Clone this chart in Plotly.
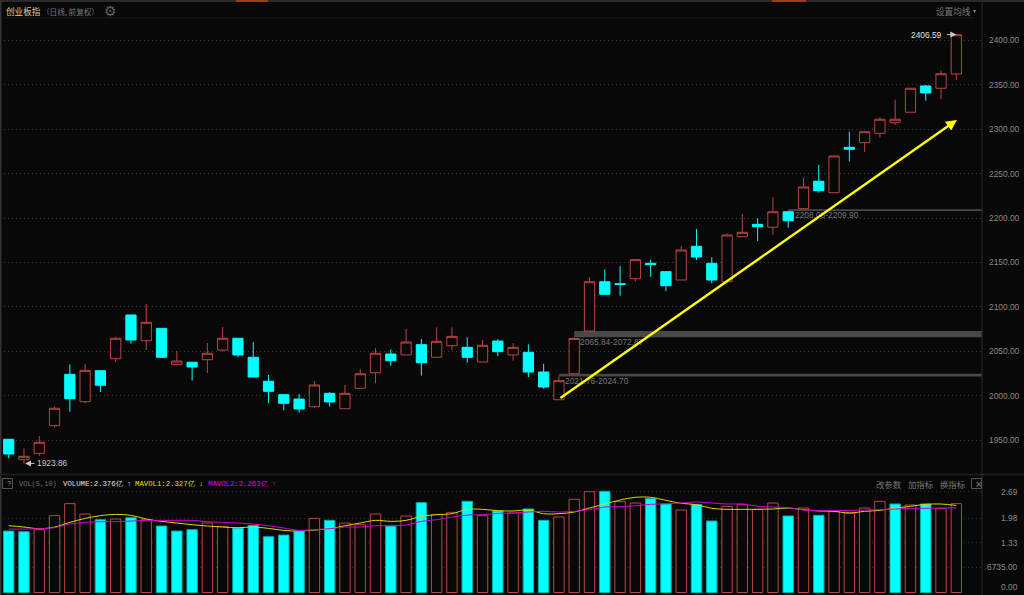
import plotly.graph_objects as go

opens = [1951.0,1928.0,1935.2,1966.3,2024.1,1993.3,2028.2,2041.7,2090.9,2062.0,2075.9,2035.0,2037.7,2040.6,2051.5,2064.7,2043.3,2016.3,2001.2,1996.3,1987.7,2002.7,
         1985.4,2008.4,2025.9,2047.0,2045.9,2057.5,2043.3,2056.3,2054.5,2038.0,2061.6,2045.9,2048.9,2026.7,1995.5,2024.7,2072.87,2128.4,2126.2,2131.8,2149.1,2139.7,2130.3,2168.3,2149.1,2128.4,2179.1,2193.0,2189.7,2207.2,
         2210.6,2241.5,2228.6,2279.7,2284.9,2295.5,2307.4,2319.2,2348.8,2346.2,2362.3]
highs = [1951.0,1940.8,1954.7,1987.7,2035.4,2036.1,2028.2,2066.5,2090.9,2103.3,2075.9,2050.4,2037.7,2059.4,2077.4,2064.7,2060.2,2023.4,2001.2,2002.0,2016.6,2004.2,
         2012.1,2030.4,2053.8,2052.3,2075.1,2063.9,2077.1,2077.1,2065.8,2062.8,2063.6,2059.4,2057.9,2036.1,2021.76,2065.84,2133.4,2142.4,2146.1,2153.6,2153.2,2139.7,2168.6,2187.7,2155.9,2182.9,2205.0,2199.8,2223.4,2208.08,
         2245.5,2259.8,2270.0,2297.3,2298.0,2313.5,2333.3,2346.2,2349.6,2366.4,2406.59]
lows = [1929.6,1923.86,1932.1,1964.5,1982.0,1991.5,2004.2,2038.0,2058.6,2051.5,2042.5,2035.0,2017.0,2025.6,2049.6,2043.3,2021.1,1991.5,1983.6,1980.9,1985.9,1987.7,
        1985.4,2008.4,2014.0,2033.8,2045.9,2022.6,2043.3,2051.5,2037.2,2038.0,2044.7,2039.5,2021.1,2007.9,1995.5,2024.7,2072.87,2113.4,2112.6,2128.9,2134.0,2117.9,2130.3,2152.8,2126.6,2128.4,2179.1,2174.2,2181.3,2189.2,
        2209.9,2228.6,2228.6,2264.0,2274.5,2290.6,2304.9,2319.2,2332.2,2334.1,2355.5]
closes = [1934.4,1931.8,1947.6,1985.9,1996.7,2028.6,2011.8,2064.7,2062.8,2082.7,2043.3,2039.1,2032.4,2047.8,2064.7,2045.9,2021.1,2005.0,1991.5,1985.1,2012.1,1993.0,
          2002.7,2024.8,2047.8,2039.5,2060.5,2037.2,2061.3,2066.9,2043.3,2056.8,2049.6,2054.5,2026.7,2009.8,2017.0,2064.5,2128.4,2114.2,2125.3,2153.2,2147.6,2123.9,2164.1,2156.2,2130.3,2181.0,2184.0,2190.3,2207.2,2197.1,
          2235.0,2230.9,2270.0,2277.5,2297.3,2311.3,2311.3,2346.2,2340.9,2362.6,2406.5]

volumes = [1.643,1.625,1.679,2.054,2.375,2.098,1.946,1.964,2.0,1.946,1.777,1.643,1.679,1.857,1.768,1.723,1.795,1.491,1.536,1.634,1.982,1.929,
           1.857,1.813,2.098,1.777,2.045,2.402,2.089,2.143,2.438,2.054,2.179,2.125,2.232,1.929,2.018,2.491,2.696,2.705,2.429,2.393,2.509,2.366,2.205,
           2.357,1.911,2.304,2.357,2.223,2.393,2.045,2.259,2.063,2.161,2.125,2.259,2.438,2.366,2.339,2.366,2.25,2.376]
vol_up = [0,0,1,1,1,1,0,1,0,1,0,0,0,1,1,0,0,0,0,0,1,0,
          1,1,1,0,1,0,1,1,0,1,0,1,0,0,1,1,1,0,1,1,0,0,1,
          0,0,1,1,1,1,0,1,0,1,1,1,1,0,1,0,1,1]
mavol1 = [1.786,1.75,1.705,1.75,1.875,1.982,2.054,2.089,2.063,1.964,1.902,1.857,1.813,1.777,1.75,1.732,1.75,1.714,1.661,1.643,1.67,1.705,
          1.786,1.857,1.929,1.902,1.929,2.036,2.08,2.107,2.223,2.223,2.188,2.179,2.205,2.107,2.107,2.152,2.259,2.366,2.473,2.545,2.545,2.464,2.384,
          2.348,2.25,2.223,2.223,2.223,2.232,2.259,2.214,2.179,2.17,2.125,2.17,2.196,2.259,2.304,2.357,2.366,2.327]
mavol2 = [1.696,1.696,1.705,1.732,1.83,1.875,1.893,1.893,1.911,1.929,1.929,1.929,1.929,1.893,1.875,1.857,1.83,1.786,1.723,1.661,1.679,1.705,
          1.75,1.75,1.786,1.786,1.804,1.902,1.946,2.018,2.071,2.08,2.116,2.125,2.152,2.17,2.152,2.17,2.214,2.286,2.295,2.321,2.357,2.375,2.393,
          2.42,2.393,2.366,2.366,2.304,2.286,2.268,2.205,2.188,2.188,2.196,2.205,2.214,2.232,2.25,2.25,2.259,2.263]
price_ticks = [1950,2000,2050,2100,2150,2200,2250,2300,2350,2400]
vol_ticks = [2.69,1.98,1.33,0.67]
vol_tick_labels = ["2.69","1.98","1.33","6735.00"]
gap_low = [2021.76,2065.84,2208.08]
gap_high = [2024.70,2072.87,2209.90]
gap_start = [36,37,51]

W, H = 1024, 595
RED, CYAN, BG = "#bb4444", "#00ffff", "#080808"
NUM = "Liberation Sans, sans-serif"
NUMSIZE = 8.4
MONO = "Liberation Mono, monospace"
CJK = "Noto Sans CJK SC"
xs = list(range(len(closes)))
xlo, xhi = -0.569, 63.68

fig = go.Figure()
fig.add_trace(go.Candlestick(
    x=xs, open=opens, high=highs, low=lows, close=closes, xaxis="x", yaxis="y",
    increasing=dict(line=dict(color=RED, width=1), fillcolor=BG),
    decreasing=dict(line=dict(color=CYAN, width=1), fillcolor=CYAN),
    whiskerwidth=0, showlegend=False, hoverinfo="skip"))
fig.add_trace(go.Bar(
    x=xs, y=volumes, width=0.68, xaxis="x", yaxis="y2", showlegend=False, hoverinfo="skip",
    marker=dict(color=[BG if u else CYAN for u in vol_up],
                line=dict(color=[RED if u else "#00b0b0" for u in vol_up], width=1))))
fig.add_trace(go.Scatter(x=xs, y=mavol1, mode="lines", xaxis="x", yaxis="y2", showlegend=False, hoverinfo="skip",
                         line=dict(color="#d8d800", width=1, shape="spline")))
fig.add_trace(go.Scatter(x=xs, y=mavol2, mode="lines", xaxis="x", yaxis="y2", showlegend=False, hoverinfo="skip",
                         line=dict(color="#d000d0", width=1, shape="spline")))

shapes = []
for lo, hi, st in zip(gap_low, gap_high, gap_start):
    shapes.append(dict(type="rect", xref="x", yref="y", x0=st, x1=xhi, y0=lo, y1=hi, layer="below",
                       fillcolor="#484848", line=dict(width=0)))
def ui_rect(x0, y0, x1, y1, color, line=None):
    shapes.append(dict(type="rect", xref="paper", yref="paper",
                       x0=x0/982, x1=x1/982, y0=1-y1/H, y1=1-y0/H,
                       fillcolor=color, line=dict(width=1 if line else 0, color=line or color), layer="above"))
ui_rect(0, 0, 1024, 2, "#2a2a2a")
ui_rect(236, 0, 268, 2, "#a03a10")
ui_rect(772, 0, 806, 2, "#a03a10")
ui_rect(0, 0, 1.5, 595, "#333333")
ui_rect(5, 17, 974, 18.5, "#141414")
ui_rect(0, 473.5, 1024, 475.5, "#1c1c1c")
ui_rect(981.5, 0, 982.5, 595, "#2c2c2c")
ui_rect(2.5, 478.5, 12.5, 488.5, "rgba(0,0,0,0)", "#555555")
ui_rect(971.5, 478.5, 981.5, 488.5, "rgba(0,0,0,0)", "#555555")

ann = []
def ui_text(x, y, t, color, size=10, anchor="left", family=MONO):
    ann.append(dict(xref="paper", yref="paper", x=x/982, y=1-y/H, text=t, showarrow=False,
                    xanchor=anchor, yanchor="middle", font=dict(color=color, size=size, family=family),
                    borderpad=0, xshift=0))
ui_text(5, 11, "创业板指", "#d6d68c", 8.6, family=CJK)
ui_text(41, 11, "（日线, 前复权）", "#777777", 7.6, family=CJK)
ui_text(103, 10.5, "⚙", "#666666", 14, family="DejaVu Sans")
ui_text(935, 11, "设置均线", "#777777", 8.6, family=CJK)
ui_text(972, 10, "▾", "#888888", 6, family="DejaVu Sans")
ui_text(5.5, 483.5, "?", "#888888", 7.5)
ui_text(18, 483.5, "VOL(5,10)", "#707070", 7)
ui_text(62, 483.5, "VOLUME:2.376亿 ↑", "#e0e0e0", 7.3)
ui_text(134, 483.5, "MAVOL1:2.327亿 ↓", "#e0e000", 7.3)
ui_text(207, 483.5, "MAVOL2:2.263亿 ↑", "#e000e0", 7.3)
ui_text(875, 483.5, "改参数", "#777777", 8.4, family=CJK)
ui_text(907, 483.5, "加指标", "#777777", 8.4, family=CJK)
ui_text(939, 483.5, "换指标", "#777777", 8.4, family=CJK)
ui_text(973.5, 483.5, "×", "#888888", 9, family="DejaVu Sans")

for v, l in zip(vol_ticks, vol_tick_labels):
    ann.append(dict(xref="paper", yref="y2", x=1019/982, y=v, text=l, showarrow=False, xanchor="right",
                    yanchor="middle", font=dict(color="#888888", size=NUMSIZE, family=NUM), borderpad=0))
ann.append(dict(xref="paper", yref="paper", x=1019/982, y=1-587/H, text="0.00", showarrow=False, xanchor="right",
                yanchor="middle", font=dict(color="#888888", size=NUMSIZE, family=NUM), borderpad=0))

for st, off, lo, hi in zip([36.3, 37.3, 51.4], [5.2, 5.3, 4.6], gap_low, gap_high):
    ann.append(dict(x=st, y=lo-off, xref="x", yref="y", text=f"{lo:.2f}-{hi:.2f}", showarrow=False,
                    xanchor="left", yanchor="middle", font=dict(color="#777777", size=NUMSIZE, family=NUM), borderpad=0))
hi_i, lo_i = highs.index(max(highs)), lows.index(min(lows))
ann.append(dict(x=hi_i, y=max(highs), xref="x", yref="y", text=f"{max(highs):.2f}", showarrow=False, xshift=-13,
                xanchor="right", yanchor="middle", font=dict(color="#e0e0e0", size=NUMSIZE, family=NUM), borderpad=0))
ann.append(dict(x=hi_i, y=max(highs), xref="x", yref="y", text="", showarrow=True, ax=-11, ay=0,
                arrowhead=2, arrowsize=1.2, arrowwidth=1, arrowcolor="#c8c8c8"))
ann.append(dict(x=lo_i, y=min(lows), xref="x", yref="y", text=f"{min(lows):.2f}", showarrow=False, xshift=12,
                xanchor="left", yanchor="middle", font=dict(color="#c8c8c8", size=NUMSIZE, family=NUM), borderpad=0))
ann.append(dict(x=lo_i, y=min(lows), xref="x", yref="y", text="", showarrow=True, ax=11, ay=0, xshift=1,
                arrowhead=2, arrowsize=1.2, arrowwidth=1, arrowcolor="#c8c8c8"))
# trend arrow
ann.append(dict(x=62.04, y=2310.5, ax=36.0, ay=1996.3, xref="x", yref="y", axref="x", ayref="y", text="",
                showarrow=True, arrowhead=2, arrowsize=0.9, arrowwidth=2.4, arrowcolor="#ffff00"))

fig.update_layout(
    width=W, height=H, margin=dict(l=0, r=42, t=0, b=0, autoexpand=False),
    paper_bgcolor=BG, plot_bgcolor=BG, showlegend=False, shapes=shapes, annotations=ann, bargap=0.3,
    boxgap=0.33, boxgroupgap=0,
    xaxis=dict(range=[xlo, xhi], anchor="y2", showgrid=False, zeroline=False, showticklabels=False,
               rangeslider=dict(visible=False), ticks=""),
    yaxis=dict(domain=[1-474/H, 1-18/H], range=[1911.9, 2425.3], side="right", tickvals=price_ticks,
               ticktext=[f"{t:.2f}" for t in price_ticks], ticks="", ticklabelstandoff=6,
               tickfont=dict(color="#888888", size=NUMSIZE, family=NUM),
               gridcolor="#3a3a3a", griddash="1px,3px", gridwidth=1, zeroline=False, showline=False),
    yaxis2=dict(domain=[1-594/H, 1-477/H], range=[-0.04, 3.088], side="right", tickvals=vol_ticks,
                showticklabels=False, ticks="", gridcolor="#303030", griddash="1px,3px", gridwidth=1,
                zeroline=False, showline=False),
)
fig.write_html("out.html", config=dict(displayModeBar=False),
               post_script="document.body.style.margin='0';document.body.style.background='#080808';document.body.style.overflow='hidden';")
